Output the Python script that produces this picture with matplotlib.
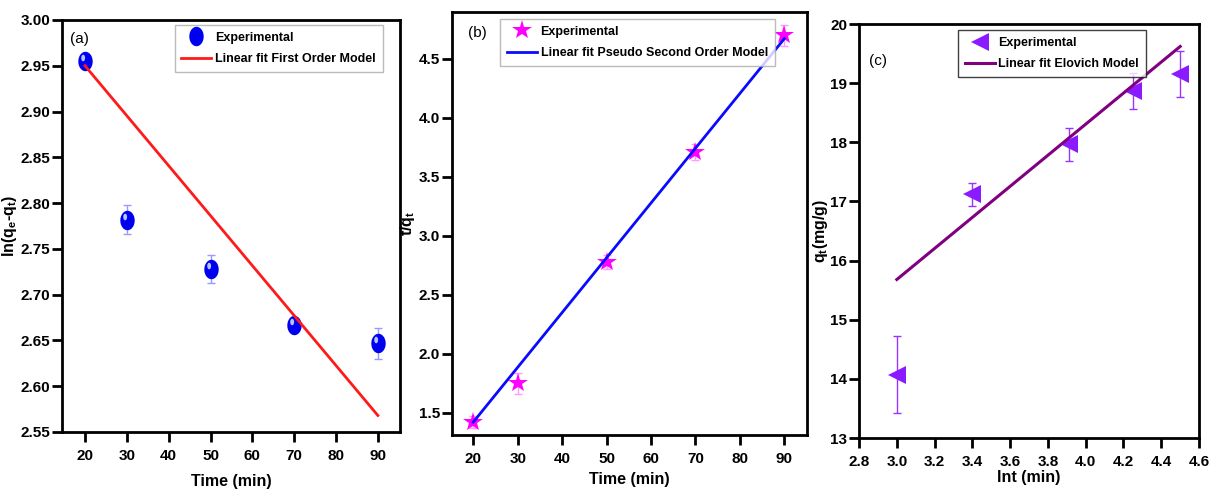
import numpy as np
import matplotlib
matplotlib.use("Agg")
import matplotlib.pyplot as plt
from matplotlib.path import Path

plt.rcParams['font.family'] = ['Liberation Sans', 'DejaVu Sans']
plt.rcParams['font.weight'] = 'bold'
plt.rcParams['axes.labelweight'] = 'bold'
plt.rcParams['mathtext.fontset'] = 'custom'
plt.rcParams['mathtext.rm'] = 'Liberation Sans:bold'
plt.rcParams['mathtext.it'] = 'Liberation Sans:bold'
plt.rcParams['mathtext.bf'] = 'Liberation Sans:bold'

# (a) pseudo first order
t_a = [20, 30, 50, 70, 90]
lnq_a = [2.955, 2.782, 2.728, 2.667, 2.647]
err_a = [0.004, 0.016, 0.015, 0.004, 0.017]
fit_a = [2.950, 2.568]

# (b) pseudo second order
t_b = [20, 30, 50, 70, 90]
tq_b = [1.42, 1.75, 2.78, 3.71, 4.70]
err_b = [0.05, 0.09, 0.06, 0.07, 0.09]
fit_b = [1.42, 4.67]

# (c) Elovich
lnt_c = [3.0, 3.4, 3.91, 4.25, 4.5]
q_c = [14.07, 17.12, 17.97, 18.87, 19.15]
err_c = [0.65, 0.20, 0.28, 0.30, 0.39]
fit_c_x = [3.0, 4.5]
fit_c = [15.68, 19.62]

# ball-like marker: ellipse + off-centre highlight
th = np.linspace(0, 2 * np.pi, 40)
ball = Path(np.column_stack([0.37 * np.cos(th), 0.5 * np.sin(th)]))
hl = Path(np.column_stack([np.r_[-0.5, 0.1 * np.cos(th) - 0.12, 0.5],
                           np.r_[0.0, 0.17 * np.sin(th) + 0.18, 0.0]]),
          codes=[Path.MOVETO] + [Path.MOVETO] + [Path.LINETO] * 39 + [Path.MOVETO])

fig = plt.figure(figsize=(12.13, 4.9), dpi=100)
ax1 = fig.add_axes([0.0511, 0.1184, 0.2787, 0.8408])
ax2 = fig.add_axes([0.3726, 0.1122, 0.2927, 0.8633])
ax3 = fig.add_axes([0.7082, 0.1061, 0.2803, 0.8449])

leg_kw = dict(loc='upper left', fontsize=9, frameon=True, fancybox=False,
              handlelength=2.4, borderpad=0.55, labelspacing=0.75, handletextpad=0.3,
              borderaxespad=0)


def style(ax):
    for s in ax.spines.values():
        s.set_linewidth(2)
    ax.tick_params(direction='out', width=2, length=7, labelsize=11)
    ax.tick_params(axis='x', pad=5)
    ax.tick_params(axis='y', pad=1.5)


# panel a
ax1.errorbar(t_a, lnq_a, yerr=err_a, fmt='none', ecolor='#9999ff', elinewidth=1, capsize=3)
ax1.plot(t_a, lnq_a, marker=ball, ls='none', color='#0000f0', markersize=14,
         markeredgewidth=0, label='Experimental')
ax1.plot(t_a, lnq_a, marker=hl, ls='none', color='#b8c4ff', markersize=14,
         markeredgewidth=0)
ax1.plot([t_a[0], t_a[-1]], fit_a, color='#ff1a1a', lw=2, label='Linear fit First Order Model')
ax1.set_xlim(14.5, 95.3)
ax1.set_ylim(2.55, 3.00)
ax1.set_xticks([20, 30, 40, 50, 60, 70, 80, 90])
ya = np.arange(2.55, 3.001, 0.05)
ax1.set_yticks(ya)
ax1.set_yticklabels([f'{v:.2f}' for v in ya])
ax1.set_xlabel('Time (min)', fontsize=11.5)
ax1.set_ylabel('ln(q$_e$-q$_t$)', fontsize=11.5)
ax1.xaxis.set_label_coords(0.5, -0.102)
ax1.yaxis.set_label_coords(-0.127, 0.5)
ax1.text(0.023, 0.945, '(a)', transform=ax1.transAxes, fontsize=11, fontweight='normal')
ax1.legend(bbox_to_anchor=(0.333, 0.988), edgecolor='#aaaaaa', **leg_kw)
style(ax1)

# panel b
ax2.errorbar(t_b, tq_b, yerr=err_b, fmt='none', ecolor='#ff99ff', elinewidth=1, capsize=3)
ax2.plot(t_b, tq_b, '*', color='#ff00ff', markersize=15, markeredgewidth=0, label='Experimental')
ax2.plot([t_b[0], t_b[-1]], fit_b, color='#0a0aff', lw=2,
         label='Linear fit Pseudo Second Order Model')
ax2.set_xlim(15.2, 95.1)
ax2.set_ylim(1.31, 4.896)
ax2.set_xticks([20, 30, 40, 50, 60, 70, 80, 90])
ax2.set_yticks([1.5, 2.0, 2.5, 3.0, 3.5, 4.0, 4.5])
ax2.set_xlabel('Time (min)', fontsize=11.5)
ax2.set_ylabel('t/q$_t$', fontsize=11.5)
ax2.xaxis.set_label_coords(0.5, -0.087)
ax2.yaxis.set_label_coords(-0.098, 0.5)
ax2.text(0.045, 0.94, '(b)', transform=ax2.transAxes, fontsize=11, fontweight='normal')
ax2.legend(bbox_to_anchor=(0.135, 0.984), edgecolor='#aaaaaa', **leg_kw)
style(ax2)

# panel c
ax3.errorbar(lnt_c, q_c, yerr=err_c, fmt='none', ecolor='#9933ff', elinewidth=1, capsize=3)
ax3.plot(lnt_c, q_c, '<', color='#8a1aff', markersize=13, markeredgewidth=0, label='Experimental')
ax3.plot(fit_c_x, fit_c, color='#800080', lw=2.2, label='Linear fit Elovich Model')
ax3.set_xlim(2.8, 4.6)
ax3.set_ylim(13, 20)
xc = np.arange(2.8, 4.61, 0.2)
ax3.set_xticks(xc)
ax3.set_xticklabels([f'{v:.1f}' for v in xc])
ax3.set_yticks(range(13, 21))
ax3.set_xlabel('lnt (min)', fontsize=11.5)
ax3.set_ylabel('q$_t$(mg/g)', fontsize=11.5)
ax3.xaxis.set_label_coords(0.5, -0.078)
ax3.yaxis.set_label_coords(-0.085, 0.5)
ax3.text(0.03, 0.9, '(c)', transform=ax3.transAxes, fontsize=11, fontweight='normal')
ax3.legend(bbox_to_anchor=(0.29, 0.985), edgecolor='#111111', **leg_kw)
style(ax3)

fig.savefig('out.png', dpi=100)
